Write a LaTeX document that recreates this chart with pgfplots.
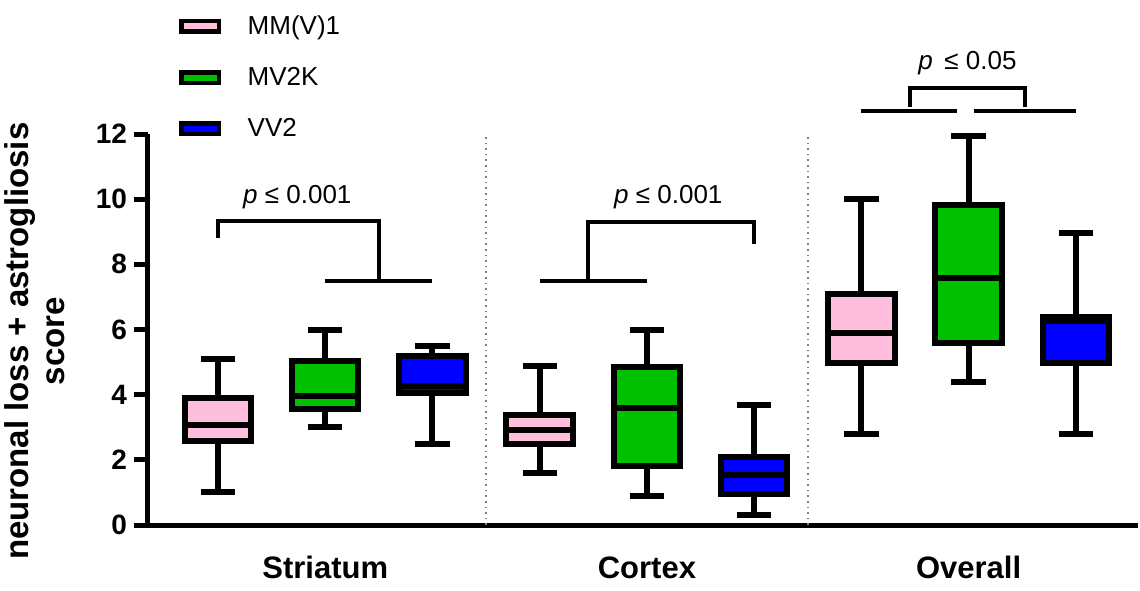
\documentclass[border=0pt]{standalone}
\usepackage{fontspec}
\setmainfont{Liberation Sans}
\usepackage{pgfplots}
\pgfplotsset{compat=1.18}
\usepgfplotslibrary{statistics}
\definecolor{cpink}{RGB}{255,190,220}
\definecolor{cgreen}{RGB}{0,192,0}
\definecolor{cblue}{RGB}{0,0,255}
\begin{document}
\begin{tikzpicture}
\path[use as bounding box] (-74pt,-32.5pt) rectangle (496pt,262.5pt);
\begin{axis}[
 scale only axis, width=495pt, height=195.5pt,
 at={(0,0)}, anchor=south west,
 xmin=0.347, xmax=9.58, ymin=0, ymax=12,
 boxplot/draw direction=y,
 axis x line=bottom, axis y line=left,
 axis line style={-, line width=2.5pt},
 xtick={2,5,8}, xticklabels={Striatum,Cortex,Overall},
 x tick label style={font=\bfseries\fontsize{15.5}{18}\selectfont, yshift=-7.5pt, inner sep=1pt},
 x tick style={draw=none},
 ytick={0,2,...,12},
 y tick label style={font=\bfseries\fontsize{14}{17}\selectfont},
 y tick style={line width=2.5pt, black},
 tick align=outside, major tick length=7pt,
 /pgf/number format/assume math mode=true,
 ylabel={neuronal loss + astrogliosis\\score},
 ylabel style={align=center, font=\bfseries\fontsize{16.5}{18}\selectfont,
   at={(axis description cs:-0.077,0.47)}, anchor=south},
 clip=false,
 legend image code/.code={\draw[#1, line width=2.2pt] (0pt,-2.65pt) rectangle (18.8pt,2.65pt); \path (31pt,0pt);},
 legend style={draw=none, fill=none, font=\fontsize{13}{16}\selectfont,
   at={(axis description cs:0.025,1.325)}, anchor=north west, row sep=11pt},
 legend cell align=left,
]
\addlegendimage{draw=black, fill=cpink}
\addlegendentry{MM(V)1}
\addlegendimage{draw=black, fill=cgreen}
\addlegendentry{MV2K}
\addlegendimage{draw=black, fill=cblue}
\addlegendentry{VV2}

\draw[gray, dotted, line width=0.8pt] (axis cs:3.5,0) -- (axis cs:3.5,12);
\draw[gray, dotted, line width=0.8pt] (axis cs:6.5,0) -- (axis cs:6.5,12);

% Striatum
\addplot[forget plot, draw=black, fill=cpink, line width=3pt, boxplot prepared={draw position=1, lower whisker=1.0, lower quartile=2.58, median=3.07, upper quartile=3.9, upper whisker=5.1, box extend=0.62, whisker extend=0.32}] coordinates {};
\addplot[forget plot, draw=black, fill=cgreen, line width=3pt, boxplot prepared={draw position=2, lower whisker=3.0, lower quartile=3.56, median=3.96, upper quartile=5.03, upper whisker=6.0, box extend=0.62, whisker extend=0.32}] coordinates {};
\addplot[forget plot, draw=black, fill=cblue, line width=3pt, boxplot prepared={draw position=3, lower whisker=2.5, lower quartile=4.05, median=4.28, upper quartile=5.19, upper whisker=5.48, box extend=0.62, whisker extend=0.32}] coordinates {};
% Cortex
\addplot[forget plot, draw=black, fill=cpink, line width=3pt, boxplot prepared={draw position=4, lower whisker=1.6, lower quartile=2.49, median=2.92, upper quartile=3.38, upper whisker=4.88, box extend=0.62, whisker extend=0.32}] coordinates {};
\addplot[forget plot, draw=black, fill=cgreen, line width=3pt, boxplot prepared={draw position=5, lower whisker=0.89, lower quartile=1.8, median=3.59, upper quartile=4.85, upper whisker=5.98, box extend=0.62, whisker extend=0.32}] coordinates {};
\addplot[forget plot, draw=black, fill=cblue, line width=3pt, boxplot prepared={draw position=6, lower whisker=0.3, lower quartile=0.95, median=1.53, upper quartile=2.09, upper whisker=3.68, box extend=0.62, whisker extend=0.32}] coordinates {};
% Overall
\addplot[forget plot, draw=black, fill=cpink, line width=3pt, boxplot prepared={draw position=7, lower whisker=2.8, lower quartile=4.97, median=5.89, upper quartile=7.09, upper whisker=10.0, box extend=0.62, whisker extend=0.32}] coordinates {};
\addplot[forget plot, draw=black, fill=cgreen, line width=3pt, boxplot prepared={draw position=8, lower whisker=4.39, lower quartile=5.58, median=7.58, upper quartile=9.82, upper whisker=11.95, box extend=0.62, whisker extend=0.32}] coordinates {};
\addplot[forget plot, draw=black, fill=cblue, line width=3pt, boxplot prepared={draw position=9, lower whisker=2.8, lower quartile=4.97, median=6.26, upper quartile=6.38, upper whisker=8.96, box extend=0.62, whisker extend=0.32}] coordinates {};

% significance brackets
\begin{scope}[line width=2pt, line join=miter]
\draw (axis cs:1,8.8) |- (axis cs:2.5,9.33) -- (axis cs:2.5,7.48);
\draw (axis cs:2,7.48) -- (axis cs:3,7.48);
\draw (axis cs:4,7.48) -- (axis cs:5,7.48);
\draw (axis cs:4.45,7.48) |- (axis cs:6,9.3) -- (axis cs:6,8.62);
\draw (axis cs:7,12.7) -- (axis cs:7.89,12.7);
\draw (axis cs:8.05,12.7) -- (axis cs:9,12.7);
\draw (axis cs:7.45,12.83) |- (axis cs:8.53,13.4) -- (axis cs:8.53,12.83);
\end{scope}
\node[font=\fontsize{13}{15}\selectfont] at (axis cs:1.74,10.07) {\textit{p} ≤ 0.001};
\node[font=\fontsize{13}{15}\selectfont] at (axis cs:5.2,10.07) {\textit{p} ≤ 0.001};
\node[font=\fontsize{13}{15}\selectfont] at (axis cs:7.99,14.18) {\textit{p}\, ≤ 0.05};
\end{axis}
\end{tikzpicture}
\end{document}
